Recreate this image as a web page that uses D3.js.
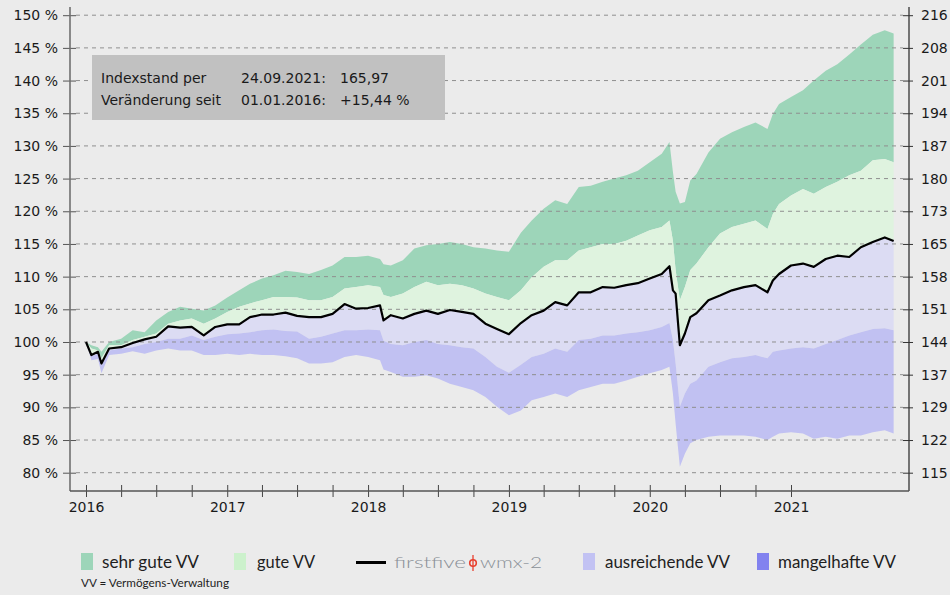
<!DOCTYPE html>
<html>
<head>
<meta charset="utf-8">
<script src="https://cdn.jsdelivr.net/npm/d3@7"></script>
<style>
  html, body { margin: 0; padding: 0; background: #ebebeb; }
  svg { display: block; }
</style>
</head>
<body>
<svg id="chart" width="950" height="595"></svg>
<script>
// ---------------- DATA ----------------
const dates = [
  "2016-01-01","2016-01-15","2016-02-01","2016-02-10","2016-03-01","2016-04-01","2016-05-01","2016-06-01","2016-07-01","2016-08-01","2016-09-01","2016-10-01","2016-11-01","2016-12-01",
  "2017-01-01","2017-02-01","2017-03-01","2017-04-01","2017-05-01","2017-06-01","2017-07-01","2017-08-01","2017-09-01","2017-10-01","2017-11-01","2017-12-01",
  "2018-01-01","2018-02-01","2018-02-10","2018-03-01","2018-04-01","2018-05-01","2018-06-01","2018-07-01","2018-08-01","2018-09-01","2018-10-01","2018-11-01","2018-12-01",
  "2019-01-01","2019-02-01","2019-03-01","2019-04-01","2019-05-01","2019-06-01","2019-07-01","2019-08-01","2019-09-01","2019-10-01","2019-11-01","2019-12-01",
  "2020-01-01","2020-02-01","2020-02-21","2020-03-01","2020-03-08","2020-03-19","2020-04-01","2020-04-15","2020-05-01","2020-06-01","2020-07-01","2020-08-01","2020-09-01","2020-10-01","2020-11-01","2020-11-15","2020-12-01",
  "2021-01-01","2021-02-01","2021-03-01","2021-04-01","2021-05-01","2021-06-01","2021-07-01","2021-08-01","2021-09-01","2021-09-24"
];

// firstfive wmx-2 index (in %)
const firstfive = [
  100, 98.0, 98.5, 96.7, 99.0, 99.2, 99.85, 100.4, 100.8, 102.4, 102.2, 102.3, 101.0, 102.3,
  102.7, 102.7, 103.8, 104.2, 104.2, 104.5, 104.0, 103.8, 103.8, 104.3, 105.8, 105.1,
  105.2, 105.6, 103.3, 104.1, 103.6, 104.3, 104.8, 104.3, 104.9, 104.6, 104.3, 102.8, 102.0,
  101.2, 102.9, 104.1, 104.8, 106.1, 105.6, 107.6, 107.6, 108.4, 108.3, 108.7, 109.0,
  109.7, 110.4, 111.6, 107.9, 107.4, 99.5, 101.3, 103.8, 104.4, 106.4, 107.1, 107.9, 108.4, 108.7, 107.6, 109.4, 110.4,
  111.7, 112.0, 111.5, 112.7, 113.2, 113.0, 114.5, 115.3, 116.0, 115.44
];

// upper edge of "sehr gute VV"
const sehrGuteTop = [
  100, 99.5, 99.2, 98.5, 100, 100.5, 101.8, 101.5, 103.3, 104.6, 105.4, 105.1, 104.8, 105.6,
  106.8, 107.9, 108.9, 109.7, 110.2, 110.9, 110.7, 110.4, 111.0, 111.7, 113.0, 113.0,
  113.2, 112.7, 111.9, 111.7, 112.5, 114.3, 114.8, 115.0, 115.3, 115.0, 114.5, 114.3, 114.0,
  113.8, 116.7, 118.6, 120.4, 121.7, 121.1, 123.7, 123.9, 124.5, 125.0, 125.5, 126.2,
  127.5, 128.8, 130.6, 126.0, 123.0, 121.2, 121.4, 124.7, 125.7, 129.0, 131.1, 132.1, 132.9, 133.6, 132.6, 134.9, 136.4,
  137.5, 138.5, 140.0, 141.5, 142.5, 144.0, 145.5, 147.0, 147.7, 147.2
];

// border "sehr gute VV" / "gute VV"
const guteTop = [
  100, 99.0, 98.7, 97.5, 99.5, 99.5, 100.3, 100.8, 101.3, 102.8, 103.3, 103.6, 102.8, 103.6,
  104.6, 105.4, 105.9, 106.4, 106.9, 106.9, 106.8, 106.4, 106.4, 106.9, 108.2, 108.4,
  108.7, 108.4, 107.2, 106.9, 107.4, 108.4, 109.2, 108.7, 108.9, 108.7, 108.2, 107.4, 106.9,
  106.4, 107.9, 109.9, 111.5, 112.5, 112.5, 114.0, 114.5, 115.0, 115.0, 115.5, 116.3,
  117.1, 117.6, 118.6, 115.5, 111.0, 106.4, 108.4, 111.0, 112.0, 114.5, 116.6, 117.6, 118.1, 118.6, 117.3, 119.6, 121.1,
  122.4, 123.4, 122.7, 123.7, 124.5, 125.5, 126.2, 127.8, 128.0, 127.5
];

// border "ausreichende VV" / "mangelhafte VV"
const mangelhafteTop = [
  100, 97.8, 98.2, 96.4, 98.7, 99.0, 99.2, 99.7, 100.0, 100.5, 100.5, 101.0, 100.3, 100.8,
  101.2, 101.3, 101.5, 101.8, 101.9, 101.7, 101.6, 100.5, 100.8, 101.3, 101.8, 101.8,
  101.9, 101.8, 100.2, 99.7, 99.5, 100.0, 100.3, 99.7, 99.5, 99.2, 99.0, 97.7, 96.2,
  95.3, 96.5, 97.7, 98.2, 99.0, 98.5, 100.3, 100.5, 101.0, 101.0, 101.3, 101.5,
  101.8, 102.3, 102.9, 100.3, 96.7, 90.1, 92.1, 93.6, 94.1, 96.2, 96.9, 97.5, 97.7, 98.0, 97.5, 98.5, 98.7,
  99.0, 99.2, 99.0, 99.7, 100.3, 101.0, 101.5, 102.0, 102.1, 101.8
];

// lower edge of "mangelhafte VV"
const mangelhafteBottom = [
  100, 97.2, 97.4, 95.2, 98.0, 98.2, 98.6, 98.2, 98.7, 99.0, 98.7, 98.7, 98.0, 98.0,
  98.2, 98.0, 98.2, 98.0, 98.0, 97.8, 97.5, 96.7, 96.7, 96.9, 97.7, 98.0,
  97.7, 97.2, 95.8, 95.4, 94.7, 94.7, 94.9, 94.4, 93.6, 93.1, 92.6, 91.6, 90.1,
  88.8, 89.5, 91.1, 91.6, 92.1, 91.6, 92.6, 93.1, 93.6, 93.6, 94.1, 94.7,
  95.2, 95.7, 96.2, 92.1, 87.5, 80.9, 82.9, 84.5, 85.0, 85.5, 85.7, 85.7, 85.7, 85.5, 85.0, 85.5, 86.0,
  86.2, 86.0, 85.2, 85.5, 85.2, 85.7, 85.7, 86.2, 86.5, 86.0
];

const leftTicks = [80, 85, 90, 95, 100, 105, 110, 115, 120, 125, 130, 135, 140, 145, 150];
const rightTickLabels = ["115","122","129","137","144","151","158","165","173","180","187","194","201","208","216"];

const legendLabels = ["sehr gute VV", "gute VV", "firstfive", "ausreichende VV", "mangelhafte VV"];
const infoRows = [
  ["Indexstand per", "24.09.2021:", "165,97"],
  ["Veränderung seit", "01.01.2016:", "+15,44 %"]
];

// ---------------- DRAW ----------------
const svg = d3.select("#chart");
const parse = d3.timeParse("%Y-%m-%d");
const data = dates.map((d, i) => ({
  date: parse(d),
  ff: firstfive[i],
  b1: sehrGuteTop[i],
  b2: guteTop[i],
  b4: mangelhafteTop[i],
  b5: mangelhafteBottom[i]
}));

const x = d3.scaleTime()
  .domain([parse("2016-01-01"), parse("2021-01-01")])
  .range([86, 791]);
const y = d3.scaleLinear().domain([80, 150]).range([472.7, 15.2]);

const axL = 70, axR = 909, axB = 491, axT = 7;

svg.append("rect").attr("width", 950).attr("height", 595).attr("fill", "#ebebeb");

const colors = {
  sehr: "#9dd5b9",
  gute: "#dff3df",
  ausr: "#dcdcf3",
  mang: "#c1c1f2"
};

function band(top, bot, color) {
  svg.append("path")
    .datum(data)
    .attr("fill", color)
    .attr("d", d3.area().x(d => x(d.date)).y0(d => y(d[bot])).y1(d => y(d[top])).curve(d3.curveLinear));
}
band("b1", "b2", colors.sehr);
band("b2", "ff", colors.gute);
band("ff", "b4", colors.ausr);
band("b4", "b5", colors.mang);

// grid lines
svg.append("g").selectAll("line").data(leftTicks).join("line")
  .attr("x1", axL + 6).attr("x2", axR - 6)
  .attr("y1", d => y(d)).attr("y2", d => y(d))
  .attr("stroke", "#8f8f8f").attr("stroke-width", 1)
  .attr("stroke-dasharray", "4,4");

// index line
svg.append("path")
  .datum(data)
  .attr("fill", "none")
  .attr("stroke", "#000")
  .attr("stroke-width", 2.2)
  .attr("stroke-linejoin", "round")
  .attr("d", d3.line().x(d => x(d.date)).y(d => y(d.ff)));

// axes
const fontTick = "DejaVu Sans, sans-serif";
const gL = svg.append("g").attr("transform", `translate(${axL},0)`)
  .call(d3.axisLeft(y).tickValues(leftTicks).tickFormat(d => d + " %").tickSize(7).tickPadding(5).tickSizeOuter(0));
gL.select(".domain").remove();
gL.selectAll(".tick line").attr("x1", 6).attr("stroke", "#555");
gL.selectAll("text").attr("font-family", fontTick).attr("font-size", 14).attr("fill", "#1a1a1a");

const gR = svg.append("g").attr("transform", `translate(${axR},0)`)
  .call(d3.axisRight(y).tickValues(leftTicks).tickFormat((d, i) => rightTickLabels[i]).tickSize(4).tickPadding(8).tickSizeOuter(0));
gR.select(".domain").remove();
gR.selectAll(".tick line").attr("x1", -6).attr("stroke", "#333");
gR.selectAll("text").attr("font-family", fontTick).attr("font-size", 14).attr("fill", "#1a1a1a");

const gB = svg.append("g").attr("transform", `translate(0,${axB})`)
  .call(d3.axisBottom(x)
    .ticks(d3.timeMonth.every(3))
    .tickFormat(d => d.getMonth() === 0 ? d3.timeFormat("%Y")(d) : "")
    .tickSize(6).tickPadding(5).tickSizeOuter(0));
gB.select(".domain").remove();
gB.selectAll(".tick").filter(d => d > parse("2021-10-15")).remove();
gB.selectAll(".tick line").attr("y1", -6).attr("stroke", "#444");
gB.selectAll("text").attr("font-family", fontTick).attr("font-size", 14).attr("fill", "#1a1a1a");

svg.append("line").attr("x1", axL).attr("x2", axL).attr("y1", axT).attr("y2", axB).attr("stroke", "#707070").attr("stroke-width", 1.6);
svg.append("line").attr("x1", axR).attr("x2", axR).attr("y1", axT).attr("y2", axB).attr("stroke", "#333").attr("stroke-width", 1.3);
svg.append("line").attr("x1", axL).attr("x2", axR).attr("y1", axB).attr("y2", axB).attr("stroke", "#555").attr("stroke-width", 1.3);

// info box
svg.append("rect").attr("x", 92).attr("y", 55).attr("width", 353).attr("height", 65).attr("fill", "#c1c1c1");
const colX = [101, 241, 340];
infoRows.forEach((row, r) => {
  row.forEach((t, c) => {
    svg.append("text")
      .attr("x", colX[c]).attr("y", 83 + r * 22)
      .attr("font-family", fontTick).attr("font-size", 14).attr("fill", "#1a1a1a")
      .text(t);
  });
});

// legend
const legFont = "Lato, 'Open Sans', sans-serif";
const legSwatch = [
  { x: 81, color: "#9dd5b9", tx: 102, tw: 97 },
  { x: 234, color: "#ccf1cc", tx: 257, tw: 58 },
  null,
  { x: 583, color: "#c2c2f3", tx: 605, tw: 125 },
  { x: 757, color: "#8282ef", tx: 778, tw: 118 }
];
legSwatch.forEach((s, i) => {
  if (!s) return;
  svg.append("rect").attr("x", s.x).attr("y", 553).attr("width", 12).attr("height", 17).attr("fill", s.color);
  svg.append("text").attr("x", s.tx).attr("y", 568)
    .attr("font-family", legFont).attr("font-size", 16.5).attr("fill", "#1e1e1e")
    .attr("textLength", s.tw).attr("lengthAdjust", "spacingAndGlyphs")
    .text(legendLabels[i]);
});
// firstfive logo entry
svg.append("line").attr("x1", 356).attr("x2", 386).attr("y1", 562.5).attr("y2", 562.5).attr("stroke", "#000").attr("stroke-width", 3);
svg.append("text").attr("x", 394).attr("y", 568)
  .attr("font-family", legFont).attr("font-weight", 300).attr("font-size", 16.5).attr("fill", "#8a9097")
  .attr("textLength", 72).attr("lengthAdjust", "spacingAndGlyphs")
  .text(legendLabels[2]);
svg.append("circle").attr("cx", 473).attr("cy", 563).attr("r", 3.3).attr("fill", "none").attr("stroke", "#e8402f").attr("stroke-width", 1.6);
svg.append("line").attr("x1", 473).attr("x2", 473).attr("y1", 555).attr("y2", 571).attr("stroke", "#e8402f").attr("stroke-width", 1.3);
svg.append("text").attr("x", 480).attr("y", 568)
  .attr("font-family", legFont).attr("font-weight", 300).attr("font-size", 16.5).attr("fill", "#8a9097")
  .attr("textLength", 62).attr("lengthAdjust", "spacingAndGlyphs")
  .text("wmx-2");

svg.append("text").attr("x", 81).attr("y", 587)
  .attr("font-family", legFont).attr("font-size", 10.5).attr("fill", "#1e1e1e")
  .attr("textLength", 148).attr("lengthAdjust", "spacingAndGlyphs")
  .text("VV = Vermögens-Verwaltung");
</script>
</body>
</html>
